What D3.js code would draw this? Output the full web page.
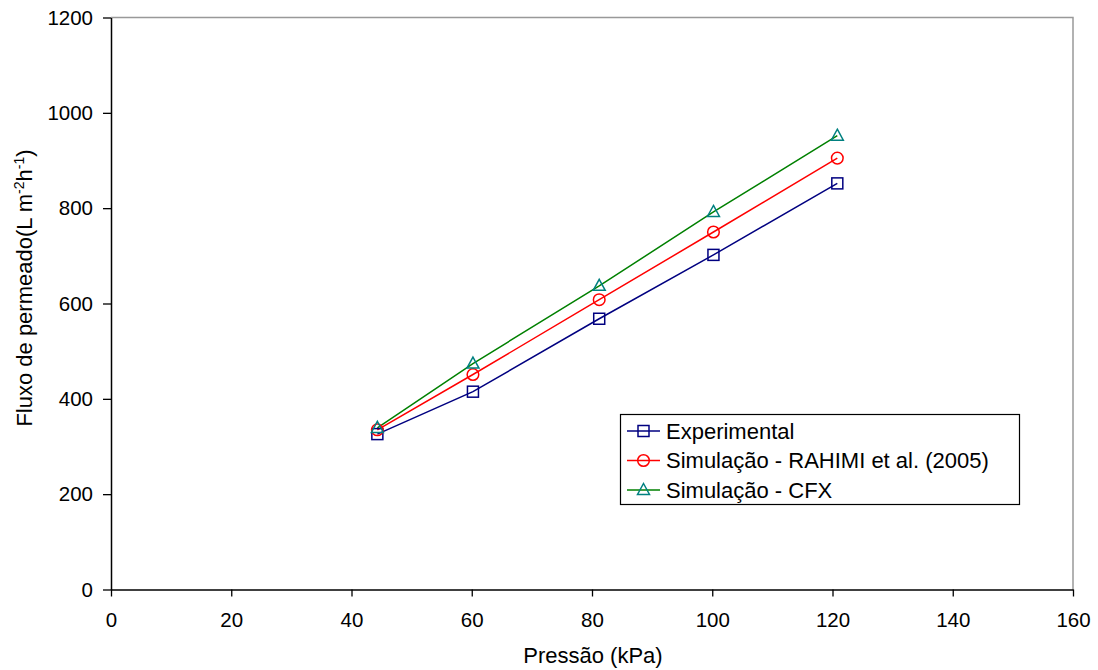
<!DOCTYPE html>
<html>
<head>
<meta charset="utf-8">
<script src="https://cdn.jsdelivr.net/npm/d3@7"></script>
<style>
  body { margin: 0; background: #fff; }
  svg { display: block; font-family: "Liberation Sans", Arial, sans-serif; }
</style>
</head>
<body>
<svg id="chart" width="1098" height="670"></svg>
<script>
// Pressure (kPa)
const pressure = [44.3, 60.2, 81.2, 100.2, 120.8];
// Permeate flux (L m-2 h-1)
const experimental = [326, 415, 568, 702, 852];
const rahimi = [335, 451, 608, 750, 905];
const cfx = [339, 474, 637, 792, 952];

const xTicks = [0, 20, 40, 60, 80, 100, 120, 140, 160];
const yTicks = [0, 200, 400, 600, 800, 1000, 1200];

const series = [
  { name: "Experimental", values: experimental, line: "#000080", marker: "#000080", shape: "square" },
  { name: "Simulação - RAHIMI et al. (2005)", values: rahimi, line: "#ff0000", marker: "#ff0000", shape: "circle" },
  { name: "Simulação - CFX", values: cfx, line: "#008000", marker: "#008080", shape: "triangle" }
];

const svg = d3.select("#chart");
const plotLeft = 111, plotRight = 1073, plotTop = 17.5, plotBottom = 589.5;
const tickFont = "20.5px", labelFont = "22px";

const x = d3.scaleLinear().domain([0, 160]).range([plotLeft, plotRight]);
const y = d3.scaleLinear().domain([0, 1200]).range([plotBottom, plotTop]);

// plot area frame (top and right)
svg.append("path")
  .attr("d", `M${plotLeft},${plotTop}H${plotRight}V${plotBottom}`)
  .attr("fill", "none").attr("stroke", "#999").attr("stroke-width", 1.5);

// axes
const xAxis = svg.append("g").attr("transform", `translate(0,${plotBottom})`)
  .call(d3.axisBottom(x).tickValues(xTicks).tickFormat(d3.format("d"))
    .tickSize(7).tickPadding(16).tickSizeOuter(0));
const yAxis = svg.append("g").attr("transform", `translate(${plotLeft},0)`)
  .call(d3.axisLeft(y).tickValues(yTicks).tickFormat(d3.format("d"))
    .tickSize(8).tickPadding(10).tickSizeOuter(0));
[xAxis, yAxis].forEach(g => {
  g.attr("font-size", null).attr("font-family", null);
  g.select(".domain").attr("stroke", "#000").attr("stroke-width", 1.5);
  g.selectAll(".tick line").attr("stroke", "#000").attr("stroke-width", 1.3);
  g.selectAll("text").attr("fill", "#000").style("font-size", tickFont);
});

// axis titles
svg.append("text").attr("x", (plotLeft + plotRight) / 2 + 1).attr("y", 663)
  .attr("text-anchor", "middle").style("font-size", labelFont).text("Pressão (kPa)");

const yt = svg.append("text")
  .attr("transform", `translate(32,288) rotate(-90)`)
  .attr("text-anchor", "middle").style("font-size", labelFont);
yt.append("tspan").text("Fluxo de permeado(L m");
yt.append("tspan").attr("dy", -8).style("font-size", "14px").text("-2");
yt.append("tspan").attr("dy", 8).text("h");
yt.append("tspan").attr("dy", -8).style("font-size", "14px").text("-1");
yt.append("tspan").attr("dy", 8).text(")");

// marker drawing
function drawMarker(g, shape, color, cx, cy) {
  if (shape === "square") {
    g.append("rect").attr("x", cx - 5.5).attr("y", cy - 5.5).attr("width", 11).attr("height", 11)
      .attr("fill", "none").attr("stroke", color).attr("stroke-width", 1.5);
  } else if (shape === "circle") {
    g.append("circle").attr("cx", cx).attr("cy", cy).attr("r", 5.8)
      .attr("fill", "none").attr("stroke", color).attr("stroke-width", 1.5);
  } else {
    g.append("path").attr("d", `M${cx},${cy - 6.5}L${cx + 6},${cy + 4.5}L${cx - 6},${cy + 4.5}Z`)
      .attr("fill", "none").attr("stroke", color).attr("stroke-width", 1.5);
  }
}

const line = d3.line().x(d => x(d[0])).y(d => y(d[1]));
series.forEach(s => {
  const pts = pressure.map((p, i) => [p, s.values[i]]);
  svg.append("path").datum(pts).attr("d", line)
    .attr("fill", "none").attr("stroke", s.line).attr("stroke-width", 1.5);
});
series.forEach(s => {
  const g = svg.append("g");
  pressure.forEach((p, i) => drawMarker(g, s.shape, s.marker, x(p), y(s.values[i])));
});

// legend
const lg = svg.append("g");
lg.append("rect").attr("x", 620.5).attr("y", 414.5).attr("width", 399).attr("height", 90)
  .attr("fill", "#fff").attr("stroke", "#000").attr("stroke-width", 1.2);
series.forEach((s, i) => {
  const cy = 431 + i * 29.5;
  lg.append("line").attr("x1", 627).attr("x2", 660).attr("y1", cy).attr("y2", cy)
    .attr("stroke", s.line).attr("stroke-width", 1.5);
  drawMarker(lg, s.shape, s.marker, 643.5, cy);
  lg.append("text").attr("x", 666).attr("y", cy + 7.5).style("font-size", labelFont).text(s.name);
});
</script>
</body>
</html>
